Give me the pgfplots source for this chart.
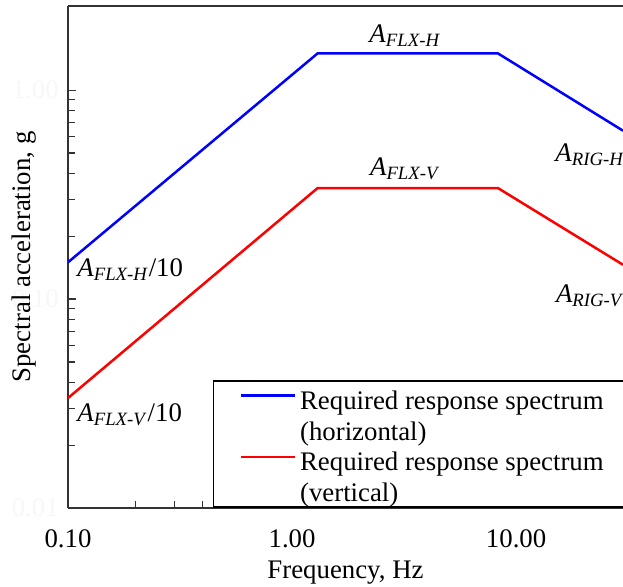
\documentclass[border=0pt]{standalone}
\usepackage{fontspec}
\setmainfont{Liberation Serif}
\usepackage{pgfplots}
\pgfplotsset{compat=1.18}
\newcommand{\lbl}[2]{\textit{A}\textsubscript{\textit{#1}}#2}
\begin{document}
\fontsize{13.4}{15.2}\selectfont
\begin{tikzpicture}
\begin{axis}[
  name=ax,
  scale only axis, width=277.5pt, height=251pt,
  xmode=log, ymode=log,
  xmin=0.1, xmax=30, ymin=0.01, ymax=2.53,
  axis y line*=left,
  axis line style={line width=0.75pt, black!80},
  xtick pos=bottom, ytick pos=left,
  tick align=inside,
  major tick length=4pt, minor tick length=3.5pt,
  every tick/.style={black!80, line width=0.6pt},
  xtick={0.1,1,10}, xticklabels={0.10,1.00,10.00},
  ytick={0.01,0.1,1}, yticklabels={0.01,0.10,1.00},
  yticklabel style={text=black!3},
  xticklabel style={yshift=-6pt},
  xlabel={Frequency, Hz},
  ylabel={Spectral acceleration, g},
  ylabel style={at={(axis description cs:-0.041,0.50)}, anchor=south},
  xlabel style={yshift=2.5pt},
  legend cell align=left,
  legend style={at={(axis description cs:0.261,0)}, anchor=south west,
    draw=black, line width=0.75pt, inner xsep=13pt, inner ysep=1pt,
    nodes={inner sep=0pt, text height=13.3pt, text depth=2pt},
    column sep=2pt,
    font=\fontsize{13.4}{15.2}\selectfont},
  legend image code/.code={\draw[#1, line width=1.25pt] (0pt,1.2pt) -- (27pt,1.2pt);},
  clip=true,
]
\addplot[blue, line width=1.25pt] coordinates {(0.1,0.15) (1.3,1.5) (8.3,1.5) (30,0.64)};
\addlegendentry{Required response spectrum\hspace{20pt}}
\addlegendimage{empty legend}
\addlegendentry{(horizontal)}
\addplot[red, line width=1.25pt] coordinates {(0.1,0.0336) (1.3,0.34) (8.3,0.34) (30,0.146)};
\addlegendentry{Required response spectrum\hspace{20pt}}
\addlegendimage{empty legend}
\addlegendentry{(vertical)}
\node at (axis cs:3.2,1.83) {\lbl{FLX-H}{}};
\node at (axis cs:3.2,0.42) {\lbl{FLX-V}{}};
\node at (axis cs:21.4,0.49) {\lbl{RIG-H}{}};
\node at (axis cs:21.4,0.104) {\lbl{RIG-V}{}};
\node[anchor=west] at (axis cs:0.1,0.138) {\lbl{FLX-H}{/10}};
\node[anchor=west] at (axis cs:0.1,0.0279) {\lbl{FLX-V}{/10}};
\end{axis}
\pgfresetboundingbox
\useasboundingbox ([xshift=-34pt,yshift=-39.5pt]ax.south west) rectangle ([yshift=3pt]ax.north east);
\end{tikzpicture}
\end{document}
